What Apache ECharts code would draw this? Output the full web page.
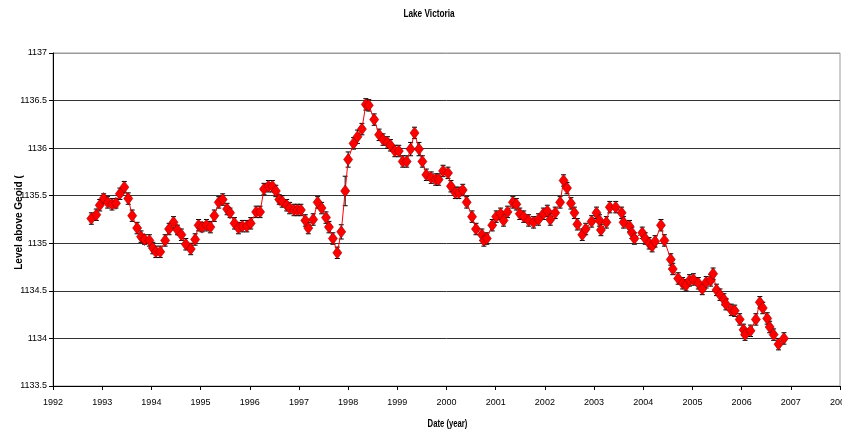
<!DOCTYPE html>
<html>
<head>
<meta charset="utf-8">
<script src="https://cdn.jsdelivr.net/npm/echarts@6/dist/echarts.min.js"></script>
<style>
html,body{margin:0;padding:0;background:#fff;}
#chart{width:842px;height:432px;}
</style>
</head>
<body>
<div id="chart"></div>
<script>
// Data
const years = [
  1992.78,1992.88,1992.95,1993.03,1993.11,1993.20,1993.28,1993.36,1993.45,1993.53,
  1993.61,1993.71,1993.79,1993.86,1993.96,1994.03,1994.09,1994.18,1994.28,1994.36,
  1994.45,1994.53,1994.61,1994.70,1994.80,1994.89,1994.96,1995.03,1995.12,1995.20,
  1995.28,1995.37,1995.45,1995.54,1995.60,1995.69,1995.77,1995.85,1995.94,1996.02,
  1996.13,1996.21,1996.29,1996.38,1996.46,1996.53,1996.60,1996.66,1996.75,1996.81,
  1996.90,1996.97,1997.04,1997.13,1997.19,1997.29,1997.38,1997.46,1997.55,1997.61,
  1997.69,1997.78,1997.86,1997.94,1998.00,1998.11,1998.19,1998.28,1998.36,1998.42,
  1998.53,1998.63,1998.71,1998.80,1998.86,1998.95,1999.03,1999.11,1999.19,1999.27,
  1999.35,1999.44,1999.51,1999.59,1999.69,1999.78,1999.84,1999.93,2000.03,2000.09,
  2000.18,2000.25,2000.33,2000.41,2000.52,2000.60,2000.72,2000.76,2000.82,2000.93,
  2001.01,2001.10,2001.16,2001.24,2001.35,2001.42,2001.49,2001.57,2001.67,2001.77,
  2001.87,2001.97,2002.05,2002.11,2002.21,2002.31,2002.38,2002.45,2002.53,2002.60,
  2002.66,2002.76,2002.83,2002.95,2003.05,2003.11,2003.14,2003.25,2003.32,2003.44,
  2003.56,2003.60,2003.72,2003.77,2003.82,2003.98,2004.04,2004.12,2004.18,2004.24,
  2004.36,2004.43,2004.56,2004.60,2004.71,2004.80,2004.87,2004.94,2005.02,2005.12,
  2005.20,2005.28,2005.37,2005.42,2005.49,2005.56,2005.64,2005.68,2005.79,2005.86,
  2005.96,2006.04,2006.07,2006.18,2006.29,2006.37,2006.43,2006.52,2006.57,2006.65,
  2006.75,2006.86
];
const levels = [
  1135.26,1135.30,1135.40,1135.47,1135.43,1135.41,1135.42,1135.52,1135.59,1135.47,
  1135.29,1135.16,1135.07,1135.04,1135.03,1134.95,1134.91,1134.91,1135.03,1135.15,
  1135.22,1135.14,1135.09,1134.99,1134.94,1135.04,1135.19,1135.17,1135.19,1135.17,
  1135.29,1135.43,1135.46,1135.36,1135.32,1135.21,1135.16,1135.18,1135.18,1135.21,
  1135.33,1135.33,1135.57,1135.60,1135.60,1135.55,1135.46,1135.44,1135.40,1135.37,
  1135.35,1135.35,1135.35,1135.24,1135.16,1135.25,1135.43,1135.37,1135.27,1135.17,
  1135.05,1134.90,1135.12,1135.55,1135.88,1136.05,1136.12,1136.20,1136.46,1136.45,
  1136.30,1136.14,1136.09,1136.06,1136.03,1135.97,1135.97,1135.86,1135.86,1135.99,
  1136.16,1135.99,1135.86,1135.72,1135.69,1135.67,1135.67,1135.76,1135.74,1135.60,
  1135.53,1135.53,1135.56,1135.43,1135.28,1135.15,1135.09,1135.03,1135.05,1135.19,
  1135.28,1135.31,1135.24,1135.33,1135.43,1135.41,1135.31,1135.28,1135.24,1135.22,
  1135.25,1135.31,1135.34,1135.25,1135.32,1135.43,1135.66,1135.58,1135.42,1135.32,
  1135.20,1135.09,1135.15,1135.23,1135.32,1135.24,1135.14,1135.22,1135.38,1135.38,
  1135.32,1135.22,1135.18,1135.11,1135.05,1135.11,1135.05,1135.00,1134.97,1135.02,
  1135.19,1135.03,1134.83,1134.73,1134.63,1134.58,1134.56,1134.61,1134.62,1134.58,
  1134.52,1134.59,1134.61,1134.68,1134.51,1134.46,1134.41,1134.36,1134.30,1134.29,
  1134.20,1134.09,1134.04,1134.08,1134.20,1134.38,1134.32,1134.21,1134.12,1134.04,
  1133.94,1134.00
];
const errors = [
  0.06,0.06,0.06,0.05,0.06,0.06,0.05,0.06,0.06,0.06,
  0.06,0.06,0.06,0.05,0.06,0.06,0.06,0.06,0.06,0.06,
  0.06,0.05,0.06,0.06,0.06,0.06,0.06,0.05,0.06,0.06,
  0.06,0.06,0.06,0.06,0.05,0.06,0.06,0.06,0.06,0.06,
  0.06,0.06,0.06,0.06,0.06,0.06,0.05,0.06,0.06,0.06,
  0.06,0.06,0.06,0.06,0.06,0.06,0.06,0.06,0.06,0.06,
  0.06,0.06,0.075,0.155,0.08,0.06,0.07,0.06,0.06,0.06,
  0.06,0.06,0.06,0.06,0.06,0.06,0.06,0.06,0.06,0.07,
  0.06,0.07,0.06,0.06,0.06,0.06,0.06,0.06,0.06,0.06,
  0.06,0.06,0.06,0.06,0.06,0.06,0.06,0.06,0.06,0.06,
  0.06,0.06,0.06,0.06,0.06,0.06,0.06,0.06,0.06,0.06,
  0.06,0.06,0.06,0.06,0.06,0.06,0.06,0.06,0.06,0.06,
  0.06,0.06,0.06,0.06,0.06,0.06,0.06,0.06,0.06,0.06,
  0.06,0.06,0.06,0.06,0.06,0.06,0.06,0.06,0.06,0.06,
  0.06,0.06,0.06,0.06,0.06,0.06,0.06,0.06,0.06,0.06,
  0.06,0.06,0.06,0.06,0.06,0.06,0.06,0.06,0.06,0.06,
  0.06,0.06,0.06,0.06,0.06,0.06,0.06,0.06,0.06,0.06,
  0.06,0.06
];
const chartTitle = 'Lake Victoria';
const xName = 'Date (year)';
const yName = 'Level above Geoid (';

const font = "'Liberation Sans',Arial,sans-serif";

const lineData = years.map((y, i) => [y, levels[i]]);
const errData = years.map((y, i) => [y, levels[i], errors[i] || 0]);

const chart = echarts.init(document.getElementById('chart'), null, {renderer: 'canvas'});
chart.setOption({
  animation: false,
  backgroundColor: '#fff',
  graphic: [
    {
      type: 'text', x: 429, y: 14, scaleX: 0.75, z: 10,
      style: {text: chartTitle, font: 'bold 11px ' + font, fill: '#000', textAlign: 'center', textVerticalAlign: 'middle'}
    },
    {
      type: 'text', x: 447.5, y: 424, scaleX: 0.7, z: 10,
      style: {text: xName, font: 'bold 11px ' + font, fill: '#000', textAlign: 'center', textVerticalAlign: 'middle'}
    },
    {
      type: 'text', x: 19, y: 222.5, rotation: Math.PI / 2, z: 10,
      style: {text: yName, font: 'bold 10px ' + font, fill: '#000', textAlign: 'center', textVerticalAlign: 'middle'}
    }
  ],
  grid: {
    left: 53, right: 2, top: 53, bottom: 46,
    show: true, borderColor: '#9a9a9a', borderWidth: 1,
    outerBoundsMode: 'none', containLabel: false
  },
  xAxis: {
    type: 'value', min: 1992, max: 2008, interval: 1,
    axisLine: {show: true, lineStyle: {color: '#000', width: 1}},
    axisTick: {show: true, length: 4, lineStyle: {color: '#000'}},
    axisLabel: {fontFamily: font, fontSize: 9, color: '#000', margin: 12, showMaxLabel: true,
      formatter: v => String(v)},
    splitLine: {show: false}
  },
  yAxis: {
    type: 'value', min: 1133.5, max: 1137, interval: 0.5,
    axisLine: {show: true, lineStyle: {color: '#000', width: 1}},
    axisTick: {show: true, length: 4, lineStyle: {color: '#000'}},
    axisLabel: {fontFamily: font, fontSize: 9, color: '#000', margin: 6,
      formatter: v => String(v)},
    splitLine: {show: true, lineStyle: {color: ['#333','#333','#333','#333','#333','#333','#333','#9a9a9a'], width: 1}}
  },
  series: [
    {
      type: 'custom',
      z: 2,
      data: errData,
      renderItem: function (params, api) {
        const x = api.value(0), y = api.value(1), e = api.value(2);
        const lo = api.coord([x, y - e]);
        const hi = api.coord([x, y + e]);
        const w = 2.5;
        const st = {stroke: '#000', lineWidth: 1};
        return {
          type: 'group',
          children: [
            {type: 'line', shape: {x1: lo[0], y1: lo[1], x2: hi[0], y2: hi[1]}, style: st},
            {type: 'line', shape: {x1: lo[0] - w, y1: lo[1], x2: lo[0] + w, y2: lo[1]}, style: st},
            {type: 'line', shape: {x1: hi[0] - w, y1: hi[1], x2: hi[0] + w, y2: hi[1]}, style: st}
          ]
        };
      }
    },
    {
      type: 'line',
      z: 3,
      data: lineData,
      symbol: 'diamond',
      symbolSize: [9, 12],
      showAllSymbol: true,
      lineStyle: {color: '#ff0000', width: 1},
      itemStyle: {color: '#ff0000', borderColor: '#8b0000', borderWidth: 0.6}
    }
  ]
});
</script>
</body>
</html>
